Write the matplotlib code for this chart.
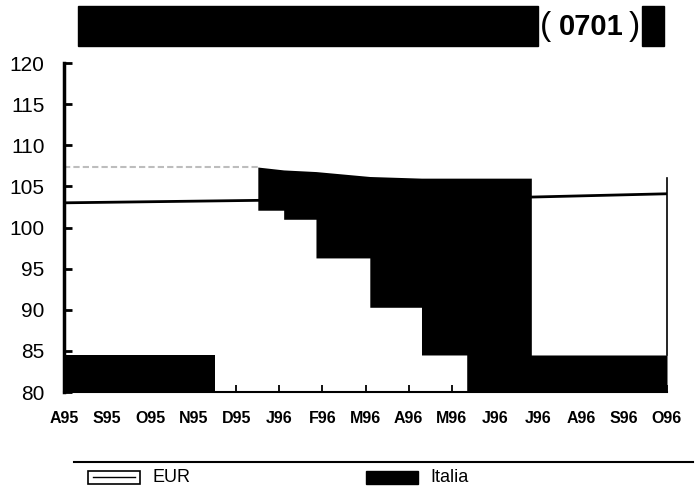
import matplotlib
matplotlib.use("Agg")
import matplotlib.pyplot as plt
import numpy as np
from matplotlib.patches import Rectangle
from matplotlib.lines import Line2D

# ---------------- data ----------------
months = ["A95", "S95", "O95", "N95", "D95", "J96", "F96", "M96",
          "A96", "M96", "J96", "J96", "A96", "S96", "O96"]
y_ticks = [80, 85, 90, 95, 100, 105, 110, 115, 120]

# EUR reference line (lower edge of band) and upper edge of band
eur_x = [0, 4.5, 10.85, 14]
eur_low = [103.0, 103.3, 103.7, 104.1]
eur_band_x = [0, 4.5]
eur_high = [107.4, 107.4]

# Italia black areas (step-shaped)
ita1_x = [0, 3.5]
ita1_low = [80, 80]
ita1_high = [84.5, 84.5]

ita2_x = [4.5, 5.1, 5.1, 5.85, 5.85, 7.1, 7.1, 8.3, 8.3, 9.35, 9.35, 10.85, 10.85, 14]
ita2_low = [102.1, 102.1, 101.0, 101.0, 96.3, 96.3, 90.3, 90.3, 84.5, 84.5, 80, 80, 80, 80]
ita2_high = [107.35, 107.0, 107.0, 106.8, 106.8, 106.2, 106.2, 106.0, 106.0, 106.0, 106.0, 106.0, 84.5, 84.5]

# ---------------- figure ----------------
plt.rcParams['font.family'] = ['Liberation Sans', 'DejaVu Sans']
fig = plt.figure(figsize=(6.96, 4.90), dpi=100)
ax = fig.add_axes([64/696, 1-392/490, (667-64)/696, (392-63)/490])

ax.plot(eur_x, eur_low, color="black", lw=2.0, zorder=2)
ax.plot(eur_band_x, eur_high, color="#bdbdbd", lw=1.5, ls=(0, (3, 1.5)), zorder=2)
ax.fill_between(ita1_x, ita1_low, ita1_high, color="black", lw=0, zorder=3)
ax.fill_between(ita2_x, ita2_low, ita2_high, color="black", lw=0, zorder=3)
ax.plot([14, 14], [84.5, 106.0], color="black", lw=1.2, zorder=3, clip_on=False)

ax.set_xlim(0, 14)
ax.set_ylim(80, 120)
ax.set_xticks(range(len(months)))
ax.set_xticklabels(months, fontsize=11.5, fontweight="bold")
ax.set_yticks(y_ticks)
ax.set_yticklabels([str(v) for v in y_ticks], fontsize=15)
ax.tick_params(axis="y", direction="in", length=6, width=2, pad=14)
ax.tick_params(axis="x", direction="in", length=5, width=1.3, pad=14)
for s in ["top", "right"]:
    ax.spines[s].set_visible(False)
ax.spines["left"].set_linewidth(2.5)
ax.spines["bottom"].set_linewidth(1.5)

# ---------------- title bar ----------------
fig.patches.append(Rectangle((78/696, 1-46/490), (538-78)/696, 40/490,
                             transform=fig.transFigure, color="black"))
fig.patches.append(Rectangle((642/696, 1-46/490), (664-642)/696, 40/490,
                             transform=fig.transFigure, color="black"))
fig.text(591/696, 1-27/490, "0701", fontsize=21, fontweight="bold",
         ha="center", va="center")
fig.text(546/696, 1-27/490, "(", fontsize=24, ha="center", va="center")
fig.text(634/696, 1-27/490, ")", fontsize=24, ha="center", va="center")

# ---------------- legend ----------------
fig.lines.append(Line2D([74/696, 693/696], [1-462/490, 1-462/490],
                        transform=fig.transFigure, color="black", lw=1.5))
fig.patches.append(Rectangle((88/696, 1-484/490), 52/696, 13/490,
                             transform=fig.transFigure, facecolor="white",
                             edgecolor="black", lw=1.2))
fig.lines.append(Line2D([93/696, 135/696], [1-477/490, 1-477/490],
                        transform=fig.transFigure, color="black", lw=1.0))
fig.text(152/696, 1-477/490, "EUR", fontsize=13, va="center", ha="left")
fig.patches.append(Rectangle((366/696, 1-484/490), 52/696, 13/490,
                             transform=fig.transFigure, color="black"))
fig.text(430/696, 1-477/490, "Italia", fontsize=13, va="center", ha="left")

fig.savefig("out.png", dpi=100)
